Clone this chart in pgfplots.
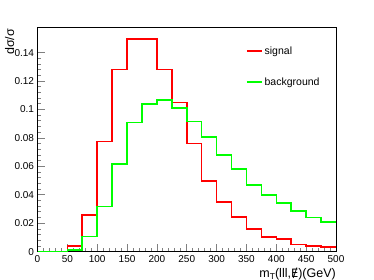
\documentclass[border=0pt]{standalone}
\usepackage{fontspec}
\setmainfont{Liberation Sans}
\newfontfamily\djv{DejaVu Sans}
\usepackage{pgfplots}
\pgfplotsset{compat=1.18}
\definecolor{rootred}{rgb}{1,0,0}
\definecolor{rootgreen}{rgb}{0,1,0}
\begin{document}
\begin{tikzpicture}[x=1pt,y=1pt]
\path (0,0) rectangle (374,280);
\begin{axis}[
  at={(37.5pt,28.3pt)}, anchor=south west,
  scale only axis, width=298.5pt, height=224pt,
  xmin=0, xmax=500, ymin=0, ymax=0.1575,
  axis line style={line width=0.8pt},
  tick style={line width=0.8pt},
  xtick={0,50,...,500}, minor x tick num=4,
  ytick={0,0.02,0.04,0.06,0.08,0.1,0.12,0.14},
  yticklabels={0,0.02,0.04,0.06,0.08,0.1,0.12,0.14},
  minor y tick num=4,
  xtick pos=bottom, ytick pos=left, tick align=inside,
  major tick length=7.5pt, minor tick length=3.8pt,
  tick label style={font=\fontsize{10}{12}\selectfont},
  /pgf/number format/assume math mode=true,
  xlabel={m\raisebox{-0.35ex}{\fontsize{8.5}{10}\selectfont T}(lll,{\djv\fontsize{11.5}{14}\selectfont Ɇ})(GeV)},
  xlabel style={at={(axis description cs:1,-0.114)}, anchor=base east, font=\fontsize{12.5}{14}\selectfont, inner sep=0pt},
  ylabel={dσ/σ},
  ylabel style={at={(axis description cs:-0.0786,0.9955)}, anchor=base east, font=\fontsize{12.5}{14}\selectfont, inner sep=0pt},
  legend style={draw=none, fill=none, at={(axis cs:349,0.1458)}, anchor=north west,
    font=\fontsize{10.5}{12}\selectfont, row sep=18pt, inner sep=0pt,
    /tikz/every even column/.append style={column sep=2pt}},
  legend image code/.code={\draw[#1] (0pt,0pt) -- (15pt,0pt);},
  legend cell align=left,
]
\addplot[const plot mark left, draw=rootred, line width=1.6pt] coordinates {
(0,0) (25,0) (50,0.004) (75,0.0257) (100,0.0776) (125,0.128) (150,0.1494) (175,0.1497)
(200,0.128) (225,0.105) (250,0.076) (275,0.0498) (300,0.0348) (325,0.0245) (350,0.0161)
(375,0.0105) (400,0.0089) (425,0.0052) (450,0.004) (475,0.0033) (500,0.0033)};
\addlegendentry{signal}
\addplot[const plot mark left, draw=rootgreen, line width=1.6pt] coordinates {
(0,0) (25,0) (50,0.001) (75,0.0108) (100,0.0318) (125,0.0615) (150,0.0907) (175,0.104)
(200,0.1066) (225,0.101) (250,0.0916) (275,0.0806) (300,0.068) (325,0.0582) (350,0.047)
(375,0.040) (400,0.0344) (425,0.0288) (450,0.0241) (475,0.021) (500,0.021)};
\addlegendentry{background}
\end{axis}
\end{tikzpicture}
\end{document}
